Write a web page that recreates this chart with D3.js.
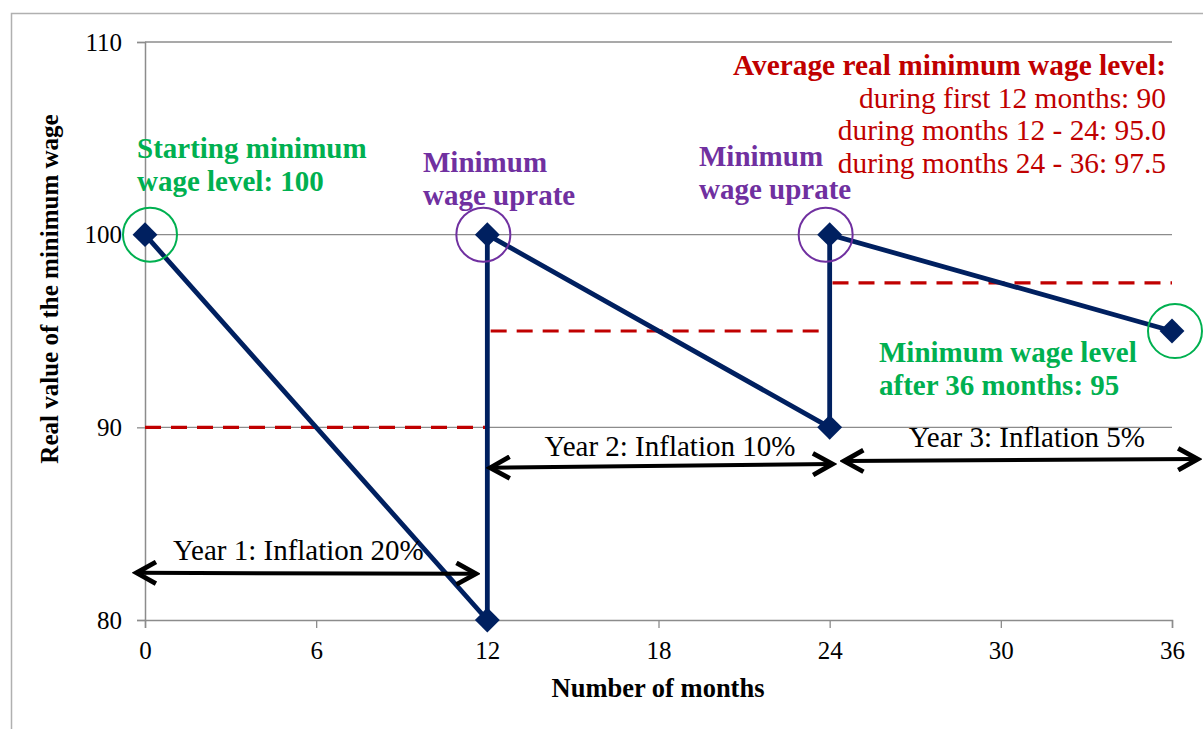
<!DOCTYPE html>
<html><head><meta charset="utf-8">
<script src="https://d3js.org/d3.v7.min.js"></script>
<style>
body { margin:0; background:#fff; }
svg text { font-family: "Liberation Serif", "Times New Roman", serif; }
</style></head>
<body>
<svg width="1203" height="729"></svg>
<script>
// wage path: months and real value
const months = [0, 12, 12, 24, 24, 36];
const wage = [100, 80, 100, 90, 100, 95];
// average levels per year
const avgStart = [0, 12, 24];
const avgEnd = [12, 24, 36];
const avgLevel = [90, 95, 97.5];
const xTicks = [0, 6, 12, 18, 24, 30, 36];
const yTicks = [80, 90, 100, 110];
// inflation arrows: [x1, y1, x2, y2]
const arrows = [[-0.3, 82.45, 11.6, 82.4], [12.1, 87.9, 24.1, 88.1], [24.5, 88.25, 36.9, 88.35]];
const arrowLabels = ["Year 1: Inflation 20%", "Year 2: Inflation 10%", "Year 3: Inflation 5%"];

const svg = d3.select("svg");
const x = d3.scaleLinear().domain([0, 36]).range([145, 1172]);
const y = d3.scaleLinear().domain([80, 110]).range([620, 42]);

svg.append("rect").attr("x", 11.5).attr("y", 13.5).attr("width", 1200).attr("height", 730)
  .attr("fill", "none").attr("stroke", "#b0b0b0").attr("stroke-width", 1.5);

// grid
svg.append("g").selectAll("line").data(yTicks.filter(d => d > 80)).join("line")
  .attr("x1", x(0)).attr("x2", x(36)).attr("y1", d => y(d)).attr("y2", d => y(d))
  .attr("stroke", "#8c8c8c").attr("stroke-width", 1.3);

const yAxis = svg.append("g").attr("transform", "translate(" + x(0) + ",0)")
  .call(d3.axisLeft(y).tickValues(yTicks).tickSize(8).tickPadding(15));
const xAxis = svg.append("g").attr("transform", "translate(0," + y(80) + ")")
  .call(d3.axisBottom(x).tickValues(xTicks).tickSize(8).tickPadding(13));
[yAxis, xAxis].forEach(a => {
  a.attr("font-size", 25).attr("font-family", "Liberation Serif, serif");
  a.select(".domain").attr("stroke", "#8c8c8c").attr("stroke-width", 1.5);
  a.selectAll(".tick line").attr("stroke", "#8c8c8c").attr("stroke-width", 1.3);
  a.selectAll(".tick text").attr("fill", "#000");
});
xAxis.selectAll(".tick line").attr("y1", 0);

svg.append("text").attr("x", 658).attr("y", 697).attr("text-anchor", "middle")
  .attr("font-size", 26.5).attr("font-weight", "bold").text("Number of months");
svg.append("text").attr("transform", "translate(58,289) rotate(-90)").attr("text-anchor", "middle")
  .attr("font-size", 25).attr("font-weight", "bold").text("Real value of the minimum wage");

// average dashed steps
const avgPts = [];
avgLevel.forEach((v, i) => { avgPts.push([avgStart[i], v]); avgPts.push([avgEnd[i], v]); });
svg.append("path").datum(avgPts)
  .attr("d", d3.line().x(d => x(d[0])).y(d => y(d[1])))
  .attr("fill", "none").attr("stroke", "#c00000").attr("stroke-width", 3.2)
  .attr("stroke-dasharray", "16,10");

// wage line
const pts = months.map((m, i) => [m, wage[i]]);
svg.append("path").datum(pts)
  .attr("d", d3.line().x(d => x(d[0])).y(d => y(d[1])))
  .attr("fill", "none").attr("stroke", "#002060").attr("stroke-width", 4.8);
svg.append("g").selectAll("path").data(pts).join("path")
  .attr("transform", d => "translate(" + x(d[0]) + "," + y(d[1]) + ") rotate(45)")
  .attr("d", d3.symbol().type(d3.symbolSquare).size(310))
  .attr("fill", "#002060");

// circles
const circ = [[0, 100, "#00b050"], [12, 100, "#7030a0"], [24, 100, "#7030a0"], [36, 95, "#00b050"]];
svg.append("g").selectAll("circle").data(circ).join("circle")
  .attr("cx", d => x(d[0]) + (d[0] === 0 ? 5 : d[0] === 36 ? 3 : -4)).attr("cy", d => y(d[1]))
  .attr("r", 27).attr("fill", "none").attr("stroke", d => d[2]).attr("stroke-width", 2);

// arrows
const defs = svg.append("defs");
defs.append("marker").attr("id", "ah").attr("viewBox", "0 0 12 12").attr("refX", 10).attr("refY", 6)
  .attr("markerWidth", 6.5).attr("markerHeight", 6.5).attr("orient", "auto-start-reverse")
  .attr("markerUnits", "strokeWidth")
  .append("path").attr("d", "M1,1 L10,6 L1,11").attr("fill", "none").attr("stroke", "#000").attr("stroke-width", 2.2);
svg.append("g").selectAll("line").data(arrows).join("line")
  .attr("x1", d => x(d[0])).attr("y1", d => y(d[1])).attr("x2", d => x(d[2])).attr("y2", d => y(d[3]))
  .attr("stroke", "#000").attr("stroke-width", 4)
  .attr("marker-start", "url(#ah)").attr("marker-end", "url(#ah)");
const labPos = [[173, 560, "start"], [670, 456, "middle"], [1145, 447, "end"]];
svg.append("g").selectAll("text").data(arrowLabels).join("text")
  .attr("x", (d, i) => labPos[i][0]).attr("y", (d, i) => labPos[i][1]).attr("text-anchor", (d, i) => labPos[i][2])
  .attr("font-size", 29).text(d => d);

// annotations
function note(lines, px, py, color, anchor, size, weights) {
  const t = svg.append("text").attr("fill", color).attr("text-anchor", anchor).attr("font-size", size);
  lines.forEach((l, i) => t.append("tspan").attr("x", px).attr("y", py + i * 32.5)
    .attr("font-weight", weights ? weights[i] : "bold").text(l));
}
note(["Starting minimum", "wage level: 100"], 137, 158, "#00b050", "start", 29);
note(["Minimum", "wage uprate"], 423, 172, "#7030a0", "start", 29);
note(["Minimum", "wage uprate"], 699, 166, "#7030a0", "start", 29);
note(["Minimum wage level", "after 36 months: 95"], 879, 362, "#00b050", "start", 29);
note(["Average real minimum wage level:", "during first 12 months: 90", "during months 12 - 24: 95.0", "during months 24 - 36: 97.5"],
  1166, 75, "#c00000", "end", 29.4, ["bold", "normal", "normal", "normal"]);
</script>
</body></html>
